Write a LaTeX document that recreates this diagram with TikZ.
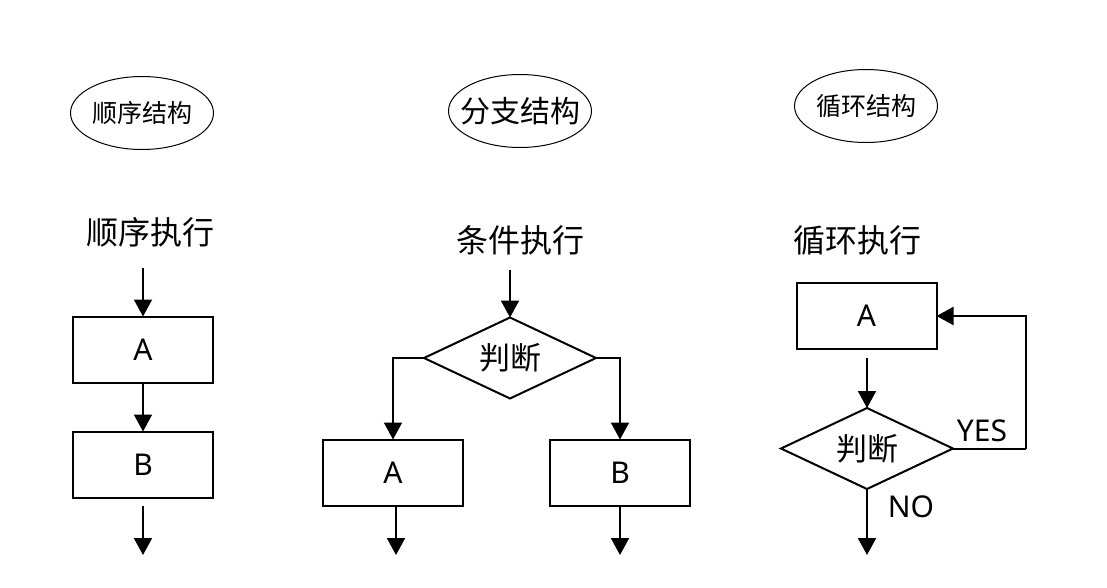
\documentclass[tikz,border=0pt]{standalone}
\usepackage{fontspec}
\setmainfont{Noto Sans CJK SC}
\newfontfamily\latinfont{Noto Sans}
\usetikzlibrary{shapes.geometric,arrows.meta}
\begin{document}
\begin{tikzpicture}[x=1pt,y=-1pt,
  every node/.style={inner sep=0pt, outer sep=0pt},
  oval/.style={ellipse, draw, line width=1pt, minimum width=143pt, minimum height=73pt},
  procbox/.style={rectangle, draw, line width=2pt, minimum width=140pt, minimum height=66pt, font=\latinfont\fontsize{30}{34}\selectfont},
  decide/.style={diamond, aspect=2.1, draw, line width=2pt, minimum width=172pt, minimum height=81pt, font=\fontsize{31}{34}\selectfont},
  heading/.style={font=\fontsize{32}{36}\selectfont},
  lbl/.style={font=\latinfont\fontsize{30}{34}\selectfont},
  arr/.style={line width=2pt, -{Triangle[length=17pt,width=18pt]}},
  ln/.style={line width=2pt}]
\useasboundingbox (0,0) rectangle (1107,587);
\fill[white] (0,0) rectangle (1107,587);

% top ovals
\node[oval, label={[font=\fontsize{25}{28}\selectfont]center:顺序结构}] (o1) at (142,113) {};
\node[oval, label={[font=\fontsize{30}{32}\selectfont]center:分支结构}] (o2) at (520,111) {};
\node[oval, label={[font=\fontsize{25}{28}\selectfont]center:循环结构}] (o3) at (866,106) {};

% column 1: sequence
\node[heading] (h1) at (150,232) {顺序执行};
\coordinate (s1) at (143,268);
\node[procbox] (a1) at (143,349.5) {A};
\node[procbox] (b1) at (143,464.5) {B};
\coordinate (t1a) at (143,506);
\coordinate (t1b) at (143,555);
\draw[arr] (s1) -- (a1.north);
\draw[arr] (a1.south) -- (b1.north);
\draw[arr] (t1a) -- (t1b);

% column 2: branch
\node[heading] (h2) at (520,240) {条件执行};
\coordinate (s2) at (510,270);
\node[decide] (d2) at (510,358) {判断};
\node[procbox] (a2) at (393,472.5) {A};
\node[procbox] (b2) at (620,472.5) {B};
\draw[arr] (s2) -- (d2.north);
\draw[arr] (d2.west) -| (a2.north);
\draw[arr] (d2.east) -| (b2.north);
\coordinate (t2a) at (396,506);
\coordinate (t2b) at (396,555);
\coordinate (t3a) at (620,506);
\coordinate (t3b) at (620,555);
\draw[arr] (t2a) -- (t2b);
\draw[arr] (t3a) -- (t3b);

% column 3: loop
\node[heading] (h3) at (857,240) {循环执行};
\node[procbox] (a3) at (866.5,316) {A};
\node[decide] (d3) at (867,448.5) {判断};
\coordinate (m3) at (867,358);
\draw[arr] (m3) -- (d3.north);
\coordinate (r3) at (1026,448.5);
\draw[ln] (d3.east) -- (r3);
\draw[arr] (r3) |- (a3.east);
\node[lbl] (yes) at (982,431) {YES};
\node[lbl] (no) at (911,507) {NO};
\coordinate (t4b) at (867,555);
\draw[arr] (d3.south) -- (t4b);
\end{tikzpicture}
\end{document}
